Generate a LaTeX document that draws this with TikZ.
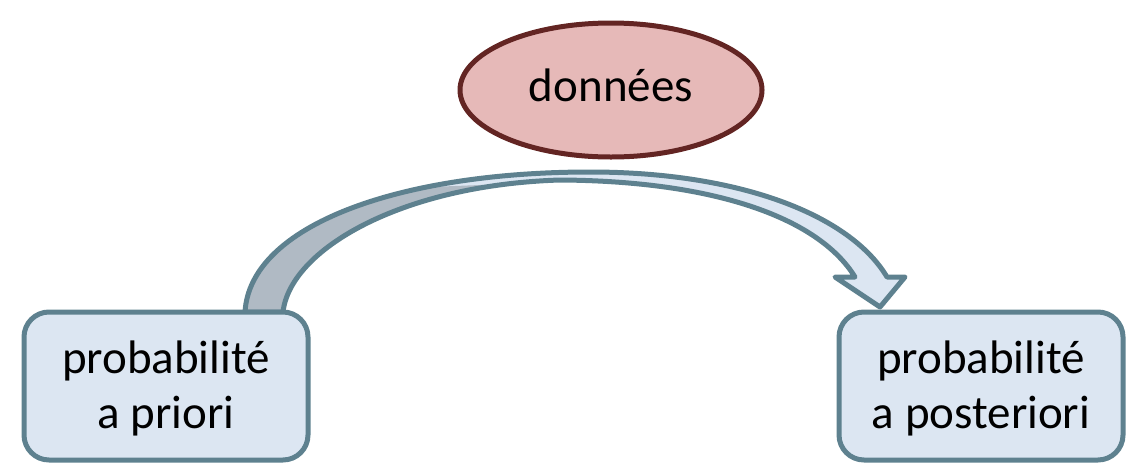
\documentclass[tikz,border=0pt]{standalone}
\usepackage{fontspec}
\setmainfont{Carlito}
\usetikzlibrary{shapes.geometric}
\definecolor{boxline}{RGB}{94,129,143}
\definecolor{boxfill}{RGB}{220,230,242}
\definecolor{backfill}{RGB}{176,186,196}
\definecolor{ellline}{RGB}{99,37,35}
\definecolor{ellfill}{RGB}{230,185,184}
\tikzset{
  probbox/.style={draw=boxline, fill=boxfill, line width=5pt, rounded corners=25pt,
    minimum width=284pt, minimum height=148pt, align=center, inner sep=0pt},
  dataell/.style={ellipse, draw=ellline, fill=ellfill, line width=5pt,
    minimum width=302pt, minimum height=134pt, inner sep=0pt},
  lbl/.style={font=\fontsize{47pt}{55pt}\selectfont, inner sep=0pt},
  ribbonline/.style={draw=boxline, line width=5pt, line join=round}
}
\def\ribbon{(245,-312) .. controls (250,-225) and (400,-172) .. (590,-172)
  .. controls (740,-172) and (850,-215) .. (887,-277)
  -- (905,-277) -- (880,-307) -- (835,-277) -- (855,-277)
  .. controls (820,-220) and (720,-181) .. (560,-180)
  .. controls (400,-185) and (290,-250) .. (283,-312) -- cycle}
\begin{document}
\begin{tikzpicture}[x=1pt,y=1pt]
\useasboundingbox (0,0) rectangle (1137,-464);
% ribbon arrow
\fill[boxfill] \ribbon;
\begin{scope}
  \clip (0,-500) -- (0,-100) -- (420,-100) -- (430,-187) -- (580,-181) -- (580,-500) -- cycle;
  \fill[backfill] \ribbon;
\end{scope}
\path[ribbonline] \ribbon;
% boxes
\node[probbox] (prior) at (166,-386) {};
\node[probbox] (post) at (981,-386) {};
\node[lbl, align=center, anchor=base] (priorT) at (166,-428) {probabilité\\a priori};
\node[lbl, align=center, anchor=base] (postT) at (981,-428) {probabilité\\a posteriori};
% ellipse
\node[dataell] (data) at (611,-90) {};
\node[lbl, anchor=base] (dataT) at (611,-101) {données};
\end{tikzpicture}
\end{document}
